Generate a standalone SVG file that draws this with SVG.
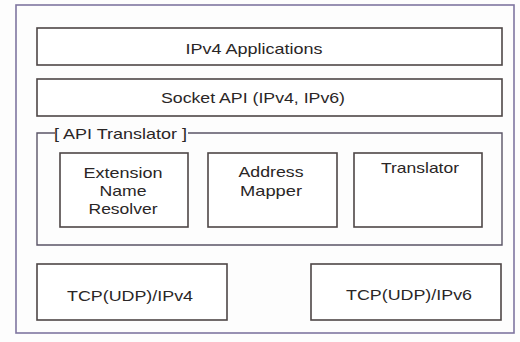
<svg xmlns="http://www.w3.org/2000/svg" width="520" height="342" viewBox="0 0 520 342">
<style>
.frame{fill:none;stroke:#7f76a0;stroke-width:1.6}
.box{fill:#ffffff;stroke:#4e4646;stroke-width:1.6}
.grp{fill:none;stroke:#5a5466;stroke-width:1.4}
.t{font-family:"Liberation Sans",Arial,sans-serif;font-size:15px;fill:#2a2626}
.c{text-anchor:middle}
</style>
<rect x="0" y="0" width="520" height="342" fill="#fdfdfd"/>
<rect class="frame" x="16" y="5" width="498" height="328"/>
<g id="ipv4-applications">
<rect class="box" x="37" y="28" width="465" height="37"/>
<text class="t c" x="254" y="54" textLength="137" lengthAdjust="spacingAndGlyphs">IPv4 Applications</text>
</g>
<g id="socket-api">
<rect class="box" x="37" y="79" width="465" height="37"/>
<text class="t c" x="253" y="103" textLength="184" lengthAdjust="spacingAndGlyphs">Socket API (IPv4, IPv6)</text>
</g>
<g id="api-translator">
<path class="grp" d="M55 133 H37 V245 H502 V133 H188"/>
<text class="t" x="54" y="139" textLength="133" lengthAdjust="spacingAndGlyphs">[ API Translator ]</text>
</g>
<g id="extension-name-resolver">
<rect class="box" x="60" y="153" width="128" height="74"/>
<text class="t c" x="123" y="178" textLength="79" lengthAdjust="spacingAndGlyphs">Extension</text>
<text class="t c" x="123" y="196" textLength="47" lengthAdjust="spacingAndGlyphs">Name</text>
<text class="t c" x="123" y="214" textLength="69" lengthAdjust="spacingAndGlyphs">Resolver</text>
</g>
<g id="address-mapper">
<rect class="box" x="208" y="153" width="129" height="74"/>
<text class="t c" x="271" y="177" textLength="65" lengthAdjust="spacingAndGlyphs">Address</text>
<text class="t c" x="271" y="196" textLength="62" lengthAdjust="spacingAndGlyphs">Mapper</text>
</g>
<g id="translator">
<rect class="box" x="354" y="153" width="128" height="74"/>
<text class="t c" x="420" y="173" textLength="78" lengthAdjust="spacingAndGlyphs">Translator</text>
</g>
<g id="tcp-udp-ipv4">
<rect class="box" x="37" y="264" width="190" height="56"/>
<text class="t c" x="130" y="301" textLength="126" lengthAdjust="spacingAndGlyphs">TCP(UDP)/IPv4</text>
</g>
<g id="tcp-udp-ipv6">
<rect class="box" x="311" y="264" width="190" height="56"/>
<text class="t c" x="409" y="300" textLength="126" lengthAdjust="spacingAndGlyphs">TCP(UDP)/IPv6</text>
</g>
<g id="connectors"></g>
</svg>
